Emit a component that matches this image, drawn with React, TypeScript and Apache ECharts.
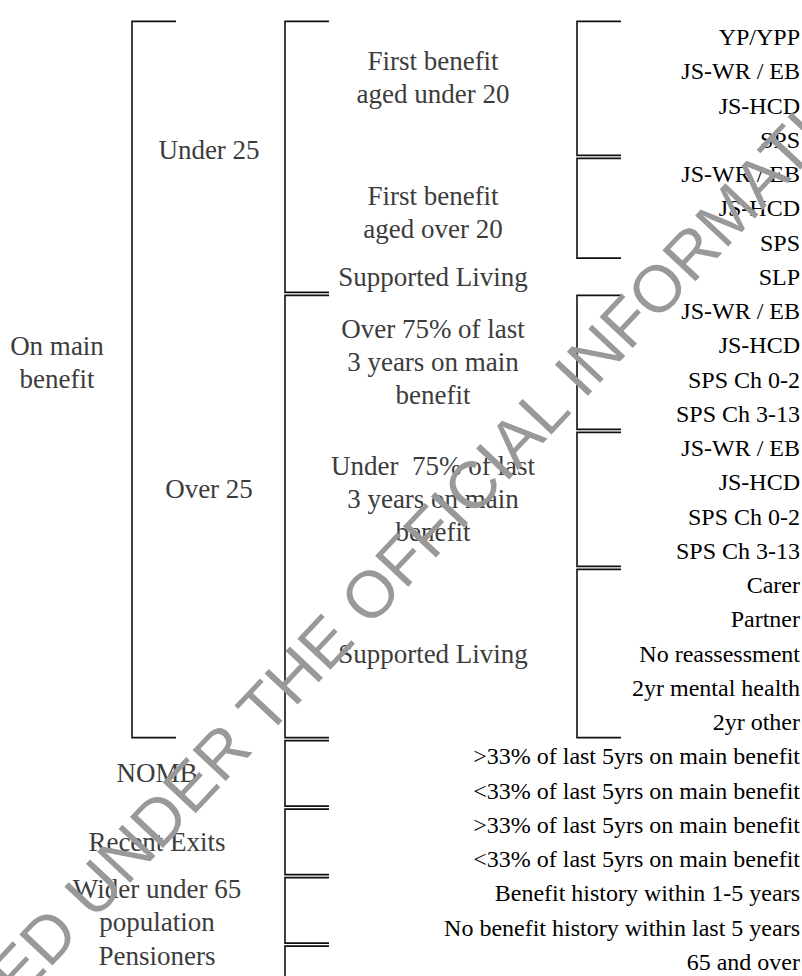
import React, { useEffect, useRef } from "react";
import * as echarts from "echarts";

// Leaf categories, one per row, top to bottom
const leafLabels: string[] = [
  "YP/YPP", "JS-WR / EB", "JS-HCD", "SPS",
  "JS-WR / EB", "JS-HCD", "SPS",
  "SLP",
  "JS-WR / EB", "JS-HCD", "SPS Ch 0-2", "SPS Ch 3-13",
  "JS-WR / EB", "JS-HCD", "SPS Ch 0-2", "SPS Ch 3-13",
  "Carer", "Partner", "No reassessment", "2yr mental health", "2yr other",
  ">33% of last 5yrs on main benefit", "<33% of last 5yrs on main benefit",
  ">33% of last 5yrs on main benefit", "<33% of last 5yrs on main benefit",
  "Benefit history within 1-5 years", "No benefit history within last 5 years",
  "65 and over",
];

// [label, first row, last row, has bracket]
type Group = [string, number, number, number];
const topGroups: Group[] = [["On main\nbenefit", 0, 20, 1]];
const ageGroups: Group[] = [["Under 25", 0, 7, 1], ["Over 25", 8, 20, 1]];
const otherGroups: Group[] = [
  ["NOMB", 21, 22, 1],
  ["Recent Exits", 23, 24, 1],
  ["Wider under 65\npopulation", 25, 26, 1],
  ["Pensioners", 27, 27, 1],
];
const subGroups: Group[] = [
  ["First benefit\naged under 20", 0, 3, 1],
  ["First benefit\naged over 20", 4, 6, 1],
  ["Supported Living", 7, 7, 0],
  ["Over 75% of last\n3 years on main\nbenefit", 8, 11, 1],
  ["Under  75% of last\n3 years on main\nbenefit", 12, 15, 1],
  ["Supported Living", 16, 20, 1],
];

const WATERMARK = "RELEASED UNDER THE OFFICIAL INFORMATION ACT";

// Layout (pixels)
const W = 802;
const H = 976;
const ROW0 = 37;
const ROW_H = 34.25;
const BRACKET_X = [132, 285, 577];
const ARM = 44;
const LEAF_RIGHT = 800;
const SERIF = "'Liberation Serif', 'Times New Roman', serif";
const SANS = "'Liberation Sans', Arial, sans-serif";
// vertical layout nudges (px) for labels that sit off-centre in their cell
const LABEL_NUDGE: Record<string, number> = {
  "On main\nbenefit": -17,
  "Under 25": -7,
  "Over 25": -28,
  "First benefit\naged under 20": -11,
  "First benefit\naged over 20": 4,
  "Wider under 65\npopulation": -5,
  "Pensioners": -6,
};

export default function App() {
  const ref = useRef<HTMLDivElement>(null);

  useEffect(() => {
    if (!ref.current) return;
    const chart = echarts.init(ref.current, undefined, { renderer: "svg" });

    // Brackets: [column, first row, last row]
    const brackets: number[][] = [];
    topGroups.forEach((g) => g[3] && brackets.push([0, g[1], g[2]]));
    ageGroups.forEach((g) => g[3] && brackets.push([1, g[1], g[2]]));
    otherGroups.forEach((g) => g[3] && brackets.push([1, g[1], g[2]]));
    subGroups.forEach((g) => g[3] && brackets.push([2, g[1], g[2]]));

    // Group labels: [label x, center row], names separately
    const labelX = { top: 57, age: 209, other: 157, sub: 433 };
    const groupLabelData: number[][] = [];
    const groupLabelNames: string[] = [];
    const addLabels = (gs: Group[], x: number) =>
      gs.forEach((g) => {
        groupLabelData.push([x, (g[1] + g[2]) / 2]);
        groupLabelNames.push(g[0]);
      });
    addLabels(topGroups, labelX.top);
    addLabels(ageGroups, labelX.age);
    addLabels(otherGroups, labelX.other);
    addLabels(subGroups, labelX.sub);

    const leafData = leafLabels.map((_, i) => [LEAF_RIGHT, i]);

    chart.setOption({
      animation: false,
      grid: { left: 0, right: 0, top: 0, bottom: 0 },
      xAxis: { type: "value", min: 0, max: W, show: false },
      yAxis: {
        type: "value",
        inverse: true,
        min: -ROW0 / ROW_H,
        max: (H - ROW0) / ROW_H,
        show: false,
      },
      series: [
        {
          type: "custom",
          coordinateSystem: "cartesian2d",
          clip: false,
          data: brackets,
          renderItem: (params: any, api: any) => {
            const col = api.value(0);
            const r0 = api.value(1);
            const r1 = api.value(2);
            const x = BRACKET_X[col];
            const top = api.coord([0, r0 - 0.5])[1] + 1.5;
            const bot = api.coord([0, r1 + 0.5])[1] - 1.5;
            return {
              type: "polyline",
              shape: {
                points: [
                  [x + ARM, top],
                  [x, top],
                  [x, bot],
                  [x + ARM, bot],
                ],
              },
              style: { stroke: "#111", lineWidth: 1.6, fill: "none" },
            };
          },
        },
        {
          type: "custom",
          coordinateSystem: "cartesian2d",
          clip: false,
          data: groupLabelData,
          renderItem: (params: any, api: any) => {
            const p = api.coord([api.value(0), api.value(1)]);
            const name = groupLabelNames[params.dataIndex];
            return {
              type: "text",
              x: p[0],
              y: p[1] + (LABEL_NUDGE[name] || 0),
              style: {
                text: name,
                fill: "#3c3c3c",
                fontSize: 27,
                fontFamily: SERIF,
                lineHeight: 33,
                align: "center",
                verticalAlign: "middle",
              },
            };
          },
        },
        {
          type: "custom",
          coordinateSystem: "cartesian2d",
          clip: false,
          data: leafData,
          renderItem: (params: any, api: any) => {
            const p = api.coord([api.value(0), api.value(1)]);
            return {
              type: "text",
              x: p[0],
              y: p[1],
              style: {
                text: leafLabels[params.dataIndex],
                fill: "#000",
                fontSize: 24,
                fontFamily: SERIF,
                align: "right",
                verticalAlign: "middle",
              },
            };
          },
        },
      ],
      graphic: [
        {
          type: "text",
          x: 402,
          y: 560,
          rotation: (46.8 * Math.PI) / 180,
          z: 100,
          silent: true,
          style: {
            text: WATERMARK,
            fill: "#999",
            fontSize: 66,
            fontFamily: SANS,
            align: "center",
            verticalAlign: "middle",
          },
        },
      ],
    });

    return () => chart.dispose();
  }, []);

  return (
    <div
      ref={ref}
      style={{ position: "absolute", left: 0, top: 0, width: W, height: H }}
    />
  );
}
